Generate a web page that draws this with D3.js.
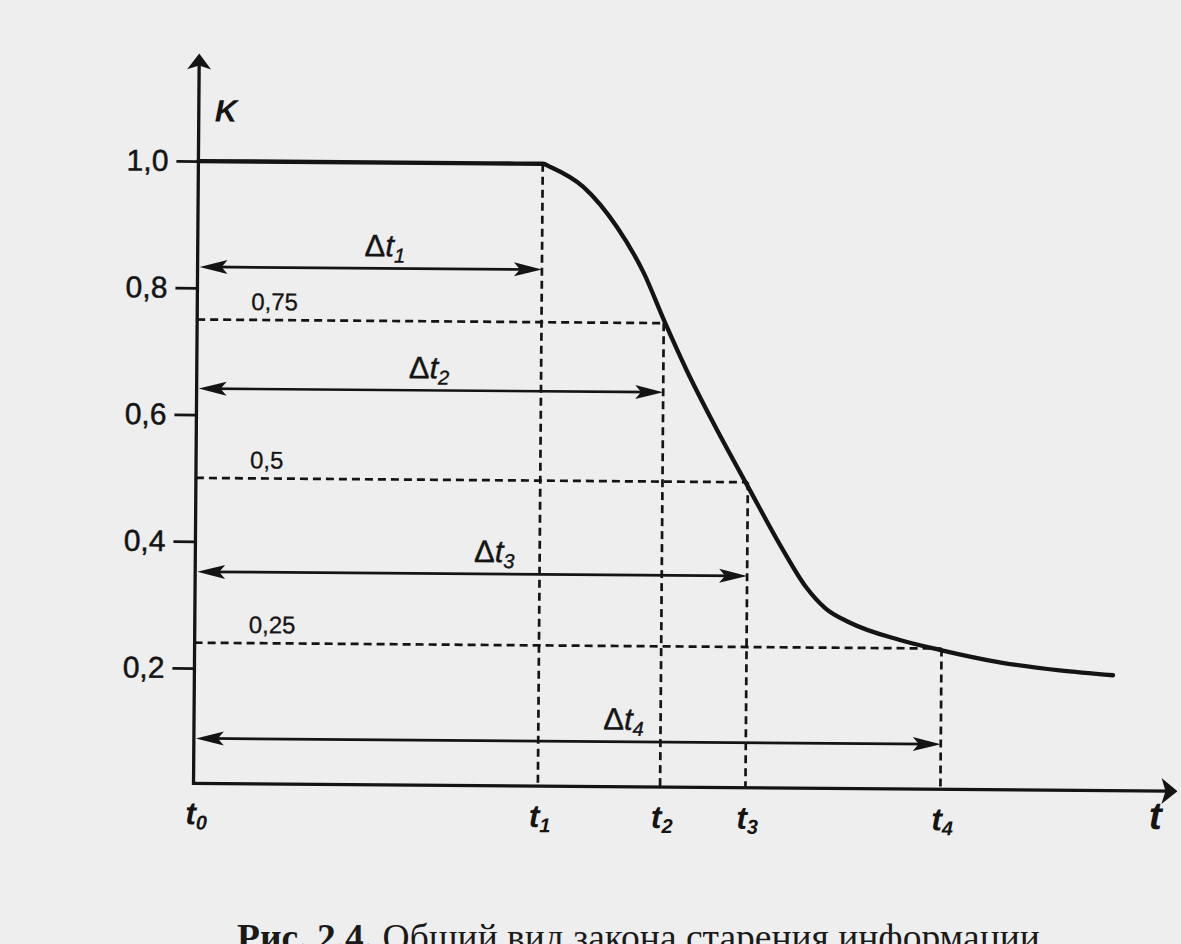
<!DOCTYPE html>
<html>
<head>
<meta charset="utf-8">
<script src="https://cdn.jsdelivr.net/npm/d3@7"></script>
<style>
  html, body { margin: 0; padding: 0; background: #eeeeee; }
  svg { display: block; }
</style>
</head>
<body>
<svg id="chart" width="1181" height="944"></svg>
<script>
// ---------------- DATA ----------------
// curve K(t): t in relative time units (t0 = 0), K = value of information
const curveT = [0, 30, 35.5, 36.3, 39.7, 43.2, 46.0, 48.2, 50.5, 53.3, 57.1, 60.6, 63.0, 65.0, 67.5, 72.7, 76.8, 83.0, 89.2, 94.7];
const curveK = [1.0, 1.0, 1.0, 0.995, 0.964, 0.901, 0.829, 0.752, 0.676, 0.593, 0.488, 0.393, 0.335, 0.302, 0.280, 0.253, 0.238, 0.219, 0.207, 0.200];

const yTicks = [0.2, 0.4, 0.6, 0.8, 1.0];
const yTickLabels = ["0,2", "0,4", "0,6", "0,8", "1,0"];

// moments t1..t4 and the K level reached at each
const momentSubs = ["1", "2", "3", "4"];
const momentT = [35.5, 48.1, 56.9, 77.0];
const momentK = [1.0, 0.75, 0.5, 0.24];
const levelLabels = ["", "0,75", "0,5", "0,25"];

// interval arrows Δt1..Δt4 (K height at which each arrow is drawn)
const intervalK = [0.833, 0.641, 0.352, 0.089];

const axisLabelY = "K";
const axisLabelX = "t";
const originSub = "0";
const captionBold = "Рис. 2.4.";
const captionText = " Общий вид закона старения информации";

// ---------------- LAYOUT ----------------
const ink = "#141414";
const sans = "'Liberation Sans', Arial, sans-serif";
const svg = d3.select("#chart");
const x = d3.scaleLinear().domain([0, 100]).range([196, 1166]);
const y = d3.scaleLinear().domain([0, 1]).range([798.35, 164.6]);
const axisY = 787;          // pixel row of the t axis
const axisTopY = 57;        // tip of K axis arrow
const axisRightX = 1180;    // tip of t axis arrow

const g = svg.append("g").attr("transform", "rotate(0.45, 650, 470)");

// dashed guides
const dash = "8,5";
g.selectAll("line.vdash").data(momentT).join("line")
  .attr("class", "vdash")
  .attr("x1", d => x(d)).attr("x2", d => x(d))
  .attr("y1", (d, i) => y(momentK[i])).attr("y2", axisY)
  .attr("stroke", ink).attr("stroke-width", 2.7).attr("stroke-dasharray", dash);
const levelIdx = [1, 2, 3];
g.selectAll("line.hdash").data(levelIdx).join("line")
  .attr("class", "hdash")
  .attr("x1", x(0)).attr("x2", i => x(momentT[i]))
  .attr("y1", i => y(momentK[i])).attr("y2", i => y(momentK[i]))
  .attr("stroke", ink).attr("stroke-width", 2.7).attr("stroke-dasharray", dash);
g.selectAll("text.lvl").data(levelIdx).join("text")
  .attr("class", "lvl")
  .attr("x", x(0) + 54).attr("y", i => y(momentK[i]) - 10)
  .attr("font-family", sans)
  .attr("font-size", 24).attr("fill", ink)
  .attr("stroke", ink).attr("stroke-width", 0.3)
  .text(i => levelLabels[i]);

// curve
const line = d3.line().x(d => x(d[0])).y(d => y(d[1])).curve(d3.curveMonotoneX);
g.append("path")
  .datum(curveT.map((t, i) => [t, curveK[i]]))
  .attr("d", line)
  .attr("fill", "none").attr("stroke", ink).attr("stroke-width", 4.3)
  .attr("stroke-linecap", "round").attr("stroke-linejoin", "round");

// axes lines
g.append("line").attr("x1", x(0)).attr("x2", x(0)).attr("y1", axisY + 1.6).attr("y2", axisTopY + 8)
  .attr("stroke", ink).attr("stroke-width", 3.3);
g.append("line").attr("x1", x(0) - 1.6).attr("x2", axisRightX - 8).attr("y1", axisY).attr("y2", axisY)
  .attr("stroke", ink).attr("stroke-width", 3.3);
g.append("path").attr("d", "M0,0 L-12,16 L0,12 L12,16 Z")
  .attr("transform", `translate(${x(0)},${axisTopY})`).attr("fill", ink);
g.append("path").attr("d", "M0,0 L-16,-13 L-12,0 L-16,13 Z")
  .attr("transform", `translate(${axisRightX},${axisY})`).attr("fill", ink);

// y ticks with d3 axis
const yAxis = d3.axisLeft(y).tickValues(yTicks)
  .tickFormat((d, i) => yTickLabels[i]).tickSize(22).tickPadding(8);
const ya = g.append("g").attr("transform", `translate(${x(0)},0)`).call(yAxis);
ya.select(".domain").remove();
ya.selectAll(".tick line").attr("stroke", ink).attr("stroke-width", 2.7);
ya.selectAll(".tick text").attr("fill", ink)
  .attr("stroke", ink).attr("stroke-width", 0.5)
  .attr("font-family", sans)
  .attr("font-size", 30);

// interval arrows
const head = "M0,0 L-28,-7 L-22,0 L-28,7 Z";
const labelShift = [14, -2, 22, 55];
intervalK.forEach((k, i) => {
  const x0 = x(0) + 2, x1 = x(momentT[i]);
  const yy = y(k);
  g.append("line").attr("x1", x0 + 10).attr("x2", x1 - 10).attr("y1", yy).attr("y2", yy)
    .attr("stroke", ink).attr("stroke-width", 2.7);
  g.append("path").attr("d", head).attr("fill", ink)
    .attr("transform", `translate(${x1},${yy})`);
  g.append("path").attr("d", head).attr("fill", ink)
    .attr("transform", `translate(${x0},${yy}) rotate(180)`);
  const t = g.append("text")
    .attr("x", (x0 + x1) / 2 + labelShift[i]).attr("y", yy - 12)
    .attr("text-anchor", "middle")
    .attr("font-family", sans)
    .attr("font-size", 31).attr("fill", ink)
    .attr("stroke", ink).attr("stroke-width", 0.4);
  t.append("tspan").text("Δ");
  t.append("tspan").attr("font-style", "italic").text("t");
  t.append("tspan").attr("font-style", "italic").attr("font-size", 20).attr("dy", 6).text(momentSubs[i]);
});

// t labels
function tLabel(px, sub, anchor) {
  const t = g.append("text")
    .attr("x", px).attr("y", 828)
    .attr("text-anchor", anchor)
    .attr("font-family", sans)
    .attr("font-weight", "bold").attr("font-style", "italic")
    .attr("font-size", 32).attr("fill", ink);
  t.append("tspan").text("t");
  t.append("tspan").attr("font-size", 20).attr("dy", 5).text(sub);
}
tLabel(x(0) - 8, originSub, "start");
momentT.forEach((t, i) => tLabel(x(t) + 2, momentSubs[i], "middle"));

g.append("text").attr("x", 1158).attr("y", 825).attr("text-anchor", "middle")
  .attr("font-family", sans)
  .attr("font-weight", "bold").attr("font-style", "italic")
  .attr("font-size", 39).attr("fill", ink).text(axisLabelX);

g.append("text").attr("x", 212).attr("y", 125)
  .attr("font-family", sans)
  .attr("font-weight", "bold").attr("font-style", "italic")
  .attr("font-size", 31).attr("fill", ink).text(axisLabelY);

// caption (cut by the lower edge, as in the scanned reference)
const cap = svg.append("text").attr("x", 237).attr("y", 950)
  .attr("font-family", "'Liberation Serif', 'Times New Roman', serif")
  .attr("font-size", 37.5).attr("fill", "#1a1a1a");
cap.append("tspan").attr("font-weight", "bold").text(captionBold);
cap.append("tspan").text(captionText);
</script>
</body>
</html>
